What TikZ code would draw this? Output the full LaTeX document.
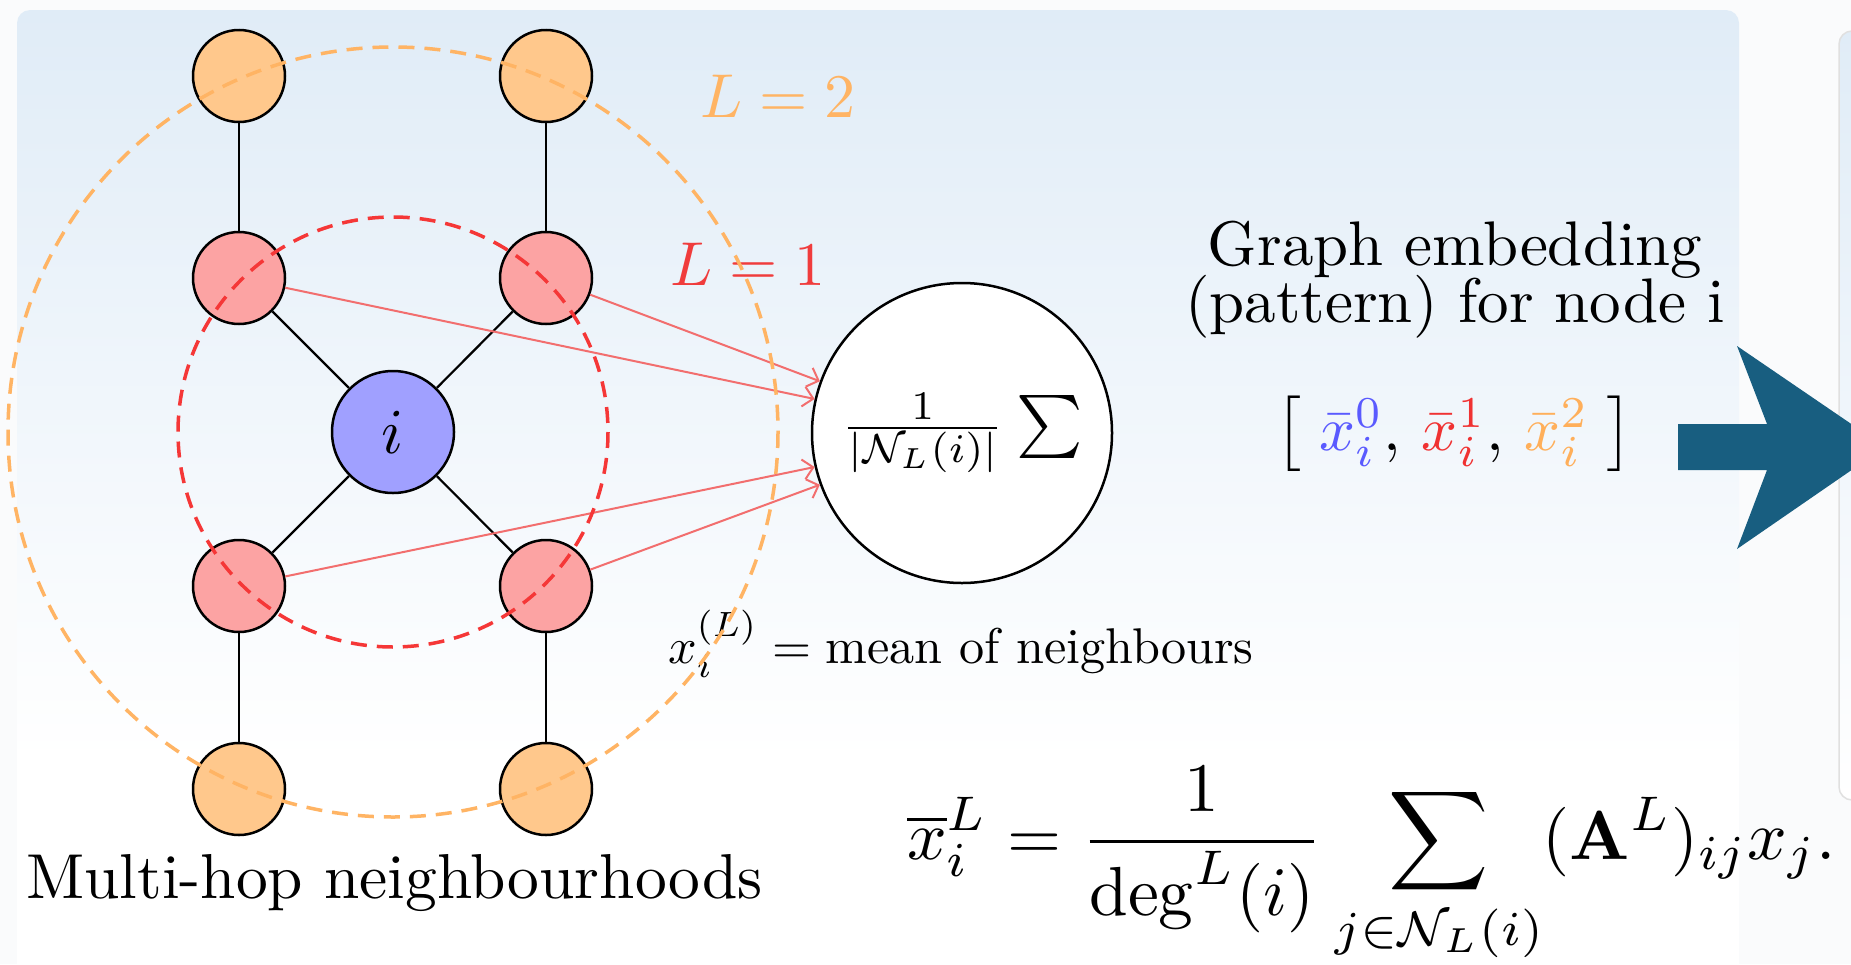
\documentclass[tikz,border=0pt]{standalone}
\usepackage{amsmath}
\usetikzlibrary{arrows.meta}

\definecolor{nodeorange}{RGB}{255,200,140}
\definecolor{nodered}{RGB}{252,163,163}
\definecolor{nodeblue}{RGB}{160,160,255}
\definecolor{ringred}{RGB}{245,55,55}
\definecolor{ringorange}{RGB}{255,180,100}
\definecolor{arrowred}{RGB}{242,110,110}
\definecolor{labred}{RGB}{240,60,60}
\definecolor{laborange}{RGB}{255,180,100}
\definecolor{darkarrow}{RGB}{24,94,128}
\definecolor{paneltop}{RGB}{224,236,247}
\definecolor{pagebg}{RGB}{250,251,252}
\definecolor{xblue}{RGB}{90,90,255}
\definecolor{xred}{RGB}{240,50,50}
\definecolor{xorange}{RGB}{255,175,90}

\begin{document}
\begin{tikzpicture}[x=1pt,y=-1pt,
  gnode/.style={circle,draw=black,line width=2.5pt,minimum size=92pt,inner sep=0pt},
  edge/.style={draw=black,line width=2.2pt},
  ring/.style={line width=3.5pt,dash pattern=on 16pt off 10pt},
  redarrow/.style={draw=arrowred,line width=2pt,-{Straight Barb[length=10pt,width=20pt,line width=2pt]}},
  txt/.style={inner sep=0pt}]
\useasboundingbox (0,0) rectangle (1851,964);
\fill[pagebg] (0,0) rectangle (1851,964);
% panels
\fill[white,rounded corners=13pt] (17,10) rectangle (1739,1000);
\shade[top color=paneltop,bottom color=white,rounded corners=13pt] (17,10) rectangle (1739,760);
\shade[top color=paneltop,bottom color=white,draw=black!12,line width=1.5pt,rounded corners=13pt] (1839,31) rectangle (1900,800);
% big arrow
\fill[darkarrow] (1678,424) -- (1767,424) -- (1737,346) -- (1885,447) -- (1737,549) -- (1767,470) -- (1678,470) -- cycle;

% graph nodes
\node[gnode,fill=nodeorange] (o1) at (239,76) {};
\node[gnode,fill=nodeorange] (o2) at (546,76) {};
\node[gnode,fill=nodered] (r1) at (239,278) {};
\node[gnode,fill=nodered] (r2) at (546,278) {};
\node[gnode,fill=nodeblue,minimum size=122pt] (i) at (393,432) {\scalebox{6.4}{$i$}};
\node[gnode,fill=nodered] (r3) at (239,586) {};
\node[gnode,fill=nodered] (r4) at (546,586) {};
\node[gnode,fill=nodeorange] (o3) at (239,789) {};
\node[gnode,fill=nodeorange] (o4) at (546,789) {};
\draw[edge] (o1) -- (r1);
\draw[edge] (o2) -- (r2);
\draw[edge] (r1) -- (i);
\draw[edge] (r2) -- (i);
\draw[edge] (i) -- (r3);
\draw[edge] (i) -- (r4);
\draw[edge] (r3) -- (o3);
\draw[edge] (r4) -- (o4);

% aggregation node
\node[gnode,fill=white,minimum size=300pt,line width=2.5pt] (sum) at (962,433)
  {\scalebox{5.8}{$\frac{1}{|\mathcal{N}_L(i)|}$}\hspace{12pt}\scalebox{6.3}{$\sum$}};
\draw[redarrow] (r1) -- (sum.167);
\draw[redarrow] (r2) -- (sum.160);
\draw[redarrow] (r3) -- (sum.193);
\draw[redarrow] (r4) -- (sum.200);

% labels
\node[txt,anchor=base west,text=laborange] (l2) at (700,117) {\scalebox{6.2}{$L=2$}};
\node[txt,anchor=base west,text=labred] (l1) at (670,285) {\scalebox{6.2}{$L=1$}};
\node[txt,anchor=base west] (mean) at (668,663)
  {\scalebox{5.02}{$x_i^{(L)} = \text{mean of neighbours}$}};
\node[txt,anchor=base west] (mh) at (26,898) {\scalebox{6.35}{Multi-hop neighbourhoods}};
\node[txt,anchor=base] (ge) at (1455,265)
  {\scalebox{6.3}{\vtop{\baselineskip=9.2pt\lineskiplimit=-100pt\halign{\hfil#\hfil\cr Graph embedding\cr (pattern) for node i\cr}}}};
\node[txt,anchor=base] (emb) at (1454,450)
  {\scalebox{6.3}{$\left[\;\textcolor{xblue}{\bar{x}_i^0},\,\textcolor{xred}{\bar{x}_i^1},\,\textcolor{xorange}{\bar{x}_i^2}\;\right]$}};
\node[txt,anchor=base west] (formula) at (907,859)
  {\scalebox{6.95}{$\displaystyle \overline{x}_i^L = \frac{1}{\deg^L(i)} \sum_{j\in\mathcal{N}_L(i)} (\mathbf{A}^L)_{ij}x_j.$}};

% neighbourhood rings
\draw[ring,ringred] (i.center) circle[radius=215];
\draw[ring,ringorange] (i.center) circle[radius=385];
\end{tikzpicture}
\end{document}
